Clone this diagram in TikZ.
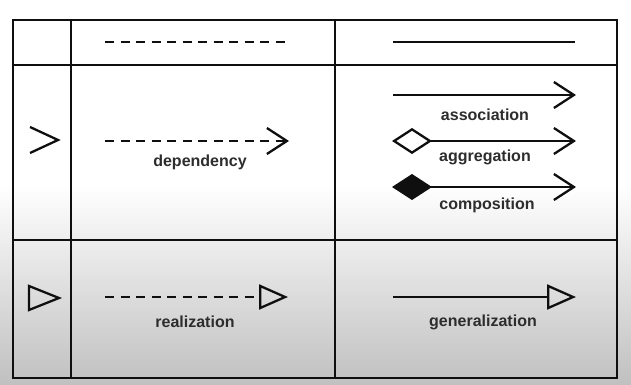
\documentclass[tikz,border=0pt]{standalone}
\usepackage{fontspec}
\setmainfont{Liberation Sans}
\usepackage{xcolor}
\usetikzlibrary{arrows.meta, positioning}
\definecolor{gridblack}{RGB}{15, 15, 15}
\definecolor{labelgray}{RGB}{45, 45, 45}
\definecolor{shadegray}{RGB}{192, 192, 192}
\tikzset{
  gridline/.style={line width=2.3pt, color=gridblack},
  lbl/.style={font=\bfseries\fontsize{16}{18}\selectfont, text=labelgray, inner sep=0pt},
  barb/.style={-{Straight Barb[length=20pt, width=26pt]}, line width=2.3pt, color=gridblack},
  dashline/.style={line width=2.3pt, color=gridblack, dash pattern=on 9pt off 6.5pt},
  trihead/.style={-{Triangle[open, length=29pt, width=25pt]}, line width=2.3pt, color=gridblack},
  diamhollow/.style={{Diamond[open, length=40pt, width=26pt]}-{Straight Barb[length=20pt, width=26pt]},
              line width=2.3pt, color=gridblack},
  diamfull/.style={{Diamond[fill=gridblack, length=40pt, width=26pt]}-{Straight Barb[length=20pt, width=26pt]},
              line width=2.3pt, color=gridblack},
}

\begin{document}
\begin{tikzpicture}[x=1pt, y=-1pt]
  % background
  \useasboundingbox (0,0) rectangle (631,385);
  \fill[white] (0,0) rectangle (631,186);
  \shade[top color=white, bottom color=shadegray] (0,185) rectangle (631,385);

  % table grid
  \draw[gridline] (13,20) rectangle (617,378);
  \draw[gridline] (13,65) -- (617,65);
  \draw[gridline] (13,240) -- (617,240);
  \draw[gridline] (71,20) -- (71,378);
  \draw[gridline] (335,20) -- (335,378);

  % end points
  \coordinate (hd_dash_s) at (105,42);   \coordinate (hd_dash_e) at (287,42);
  \coordinate (hd_line_s) at (393,42);   \coordinate (hd_line_e) at (575,42);
  \coordinate (dep_s) at (105,141);      \coordinate (dep_e) at (289,141);
  \coordinate (assoc_s) at (393,95);     \coordinate (assoc_e) at (576,95);
  \coordinate (aggr_s) at (392,141);     \coordinate (aggr_e) at (576,141);
  \coordinate (comp_s) at (392,187);     \coordinate (comp_e) at (576,187);
  \coordinate (real_s) at (105,297);     \coordinate (real_e) at (288,297);
  \coordinate (gen_s) at (393,297);      \coordinate (gen_e) at (576,297);

  % header row
  \draw[dashline] (hd_dash_s) -- (hd_dash_e);
  \draw[gridline] (hd_line_s) -- (hd_line_e);

  % left column heads
  \draw[gridline, line join=miter] (30,127) -- (58,140) -- (30,153);
  \draw[gridline, line join=miter] (29,286) -- (59,298) -- (29,310) -- cycle;

  % middle row
  \draw[barb, dash pattern=on 9pt off 6.5pt] (dep_s) -- (dep_e);
  \draw[barb] (assoc_s) -- (assoc_e);
  \draw[diamhollow] (aggr_s) -- (aggr_e);
  \draw[diamfull] (comp_s) -- (comp_e);

  % bottom row
  \draw[trihead, dash pattern=on 9pt off 6.5pt] (real_s) -- (real_e);
  \draw[trihead] (gen_s) -- (gen_e);

  % labels
  \node[lbl] (dep_l) at (200,162) {dependency};
  \node[lbl] (assoc_l) at (485,115) {association};
  \node[lbl] (aggr_l) at (485,157) {aggregation};
  \node[lbl] (comp_l) at (487,205) {composition};
  \node[lbl] (real_l) at (195,322) {realization};
  \node[lbl] (gen_l) at (483,322) {generalization};
\end{tikzpicture}
\end{document}
